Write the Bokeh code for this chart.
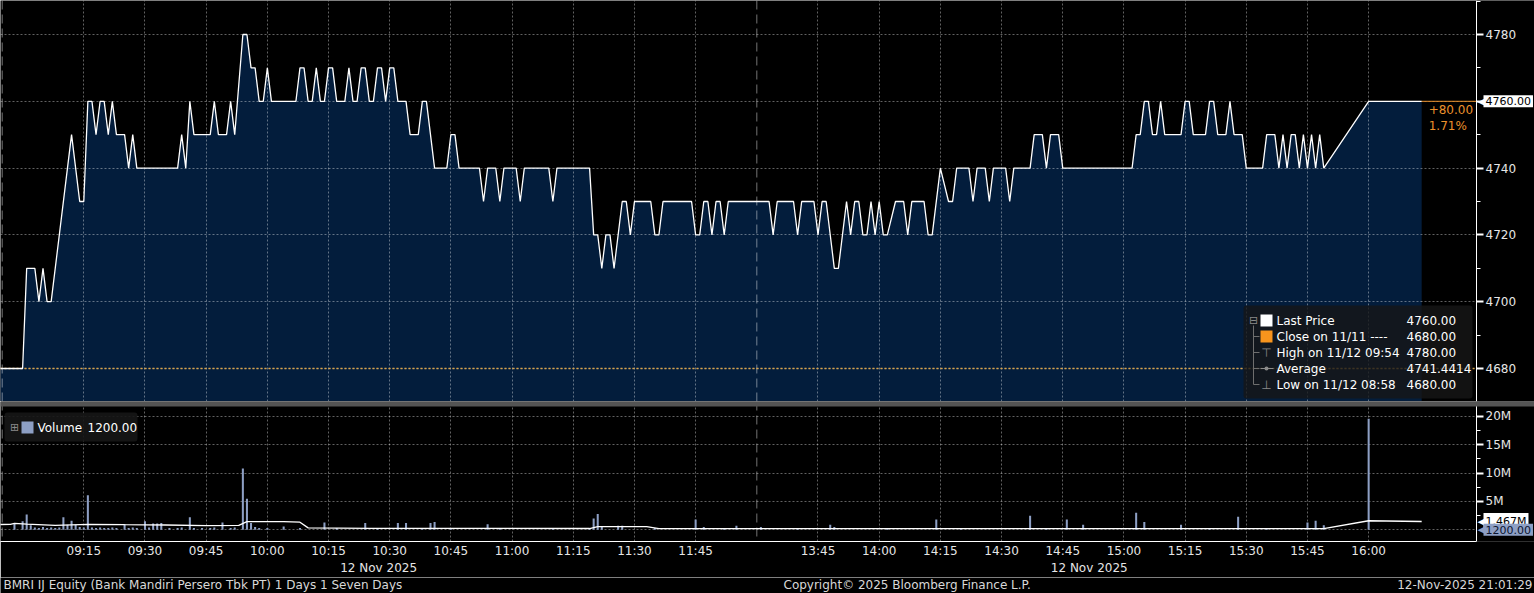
from bokeh.plotting import figure
from bokeh.models import (ColumnDataSource, FixedTicker, LinearAxis, Grid, Span,
                          BoxAnnotation, Label, Range1d)
from bokeh.layouts import column
from bokeh.embed import file_html
from bokeh.resources import INLINE
from bokeh.core.properties import value

FONT = "DejaVu Sans"

# ---------------- data ----------------
price_times = [
    "08:54", "09:00", "09:01", "09:03", "09:04", "09:05", "09:06", "09:07", "09:12", "09:14",
    "09:15", "09:16", "09:17", "09:18", "09:19", "09:20", "09:21", "09:22", "09:23", "09:25",
    "09:26", "09:27", "09:28", "09:38", "09:39", "09:40", "09:41", "09:42", "09:46", "09:47",
    "09:48", "09:50", "09:51", "09:52", "09:54", "09:55", "09:56", "09:57", "09:58", "09:59",
    "10:00", "10:01", "10:07", "10:08", "10:09", "10:10", "10:11", "10:12", "10:13", "10:14",
    "10:15", "10:16", "10:17", "10:19", "10:20", "10:21", "10:22", "10:23", "10:24", "10:25",
    "10:26", "10:27", "10:28", "10:29", "10:30", "10:31", "10:32", "10:34", "10:35", "10:37",
    "10:38", "10:39", "10:41", "10:44", "10:45", "10:46", "10:47", "10:52", "10:53", "10:54",
    "10:56", "10:57", "10:58", "11:01", "11:02", "11:03", "11:09", "11:10", "11:11", "11:19",
    "11:20", "11:21", "11:22", "11:23", "11:24", "11:25", "11:27", "11:28", "11:29", "11:30",
    "11:34", "11:35", "11:36", "11:37", "11:44", "11:45", "11:46", "11:47", "11:48", "11:49",
    "11:50", "11:51", "11:52", "11:53",
    "13:33", "13:34", "13:35", "13:39", "13:40", "13:41", "13:44", "13:45", "13:46", "13:47",
    "13:49", "13:50", "13:52", "13:53", "13:54", "13:55", "13:56", "13:57", "13:58", "13:59",
    "14:00", "14:01", "14:02", "14:04", "14:06", "14:07", "14:08", "14:11", "14:12", "14:13",
    "14:15", "14:17", "14:18", "14:19", "14:22", "14:23", "14:24", "14:26", "14:27", "14:28",
    "14:31", "14:32", "14:33", "14:37", "14:38", "14:40", "14:41", "14:42", "14:44", "14:45",
    "15:02", "15:03", "15:04", "15:05", "15:06", "15:07", "15:08", "15:09", "15:10", "15:14",
    "15:15", "15:16", "15:17", "15:20", "15:21", "15:22", "15:23", "15:25", "15:26", "15:27",
    "15:29", "15:30", "15:34", "15:35", "15:37", "15:38", "15:39", "15:40", "15:41", "15:42",
    "15:43", "15:44", "15:45", "15:46", "15:47", "15:48", "15:49", "16:00", "16:13",
]
price_values = [
    4680, 4680, 4710, 4710, 4700, 4710, 4700, 4700, 4750, 4730,
    4730, 4760, 4760, 4750, 4760, 4760, 4750, 4760, 4750, 4750,
    4740, 4750, 4740, 4740, 4750, 4740, 4760, 4750, 4750, 4760,
    4750, 4750, 4760, 4750, 4780, 4780, 4770, 4770, 4760, 4760,
    4770, 4760, 4760, 4770, 4770, 4760, 4760, 4770, 4760, 4760,
    4770, 4770, 4760, 4760, 4770, 4760, 4760, 4770, 4770, 4760,
    4760, 4770, 4770, 4760, 4770, 4770, 4760, 4760, 4750, 4750,
    4760, 4760, 4740, 4740, 4750, 4750, 4740, 4740, 4730, 4740,
    4740, 4730, 4740, 4740, 4730, 4740, 4740, 4730, 4740, 4740,
    4720, 4720, 4710, 4720, 4720, 4710, 4730, 4730, 4720, 4730,
    4730, 4720, 4720, 4730, 4730, 4720, 4720, 4730, 4730, 4720,
    4730, 4730, 4720, 4730,
    4730, 4720, 4730, 4730, 4720, 4730, 4730, 4720, 4730, 4730,
    4710, 4710, 4730, 4720, 4730, 4730, 4720, 4720, 4730, 4720,
    4730, 4720, 4720, 4730, 4730, 4720, 4730, 4730, 4720, 4720,
    4740, 4730, 4730, 4740, 4740, 4730, 4740, 4740, 4730, 4740,
    4740, 4730, 4740, 4740, 4750, 4750, 4740, 4750, 4750, 4740,
    4740, 4750, 4750, 4760, 4760, 4750, 4750, 4760, 4750, 4750,
    4760, 4760, 4750, 4750, 4760, 4760, 4750, 4750, 4760, 4750,
    4750, 4740, 4740, 4750, 4750, 4740, 4750, 4740, 4750, 4750,
    4740, 4750, 4740, 4750, 4740, 4750, 4740, 4760, 4760,
]

vol_times = [
    "08:58", "09:00", "09:01", "09:02", "09:03", "09:04", "09:05", "09:06", "09:07", "09:08",
    "09:09", "09:10", "09:11", "09:12", "09:13", "09:14", "09:15", "09:16", "09:17", "09:18",
    "09:19", "09:20", "09:21", "09:22", "09:23", "09:25", "09:26", "09:27", "09:28", "09:30",
    "09:31", "09:32", "09:33", "09:34", "09:36", "09:38", "09:39", "09:41", "09:42", "09:44",
    "09:46", "09:47", "09:49", "09:51", "09:52", "09:54", "09:55", "09:56", "09:57", "09:58",
    "10:00", "10:04", "10:08", "10:14", "10:17", "10:24", "10:27", "10:32", "10:34", "10:38",
    "10:40", "10:41", "10:45", "10:54", "10:57", "11:10", "11:19", "11:20", "11:21", "11:22",
    "11:26", "11:27", "11:35", "11:45", "11:47", "11:52", "11:55",
    "13:31", "13:40", "13:48", "13:49", "14:02", "14:14", "14:20", "14:37", "14:41", "14:46",
    "14:50", "15:03", "15:05", "15:14", "15:21", "15:28", "15:35", "15:45", "15:47", "15:49",
    "16:00", "16:13",
]
vol_values = [
    1200000, 1500000, 2700000, 800000, 400000, 300000, 500000, 300000, 400000, 300000,
    400000, 2200000, 900000, 1600000, 900000, 500000, 400000, 6100000, 400000, 300000,
    400000, 300000, 300000, 400000, 300000, 1000000, 300000, 400000, 300000, 1500000,
    400000, 1100000, 1100000, 1200000, 300000, 300000, 400000, 2200000, 300000, 300000,
    300000, 400000, 1300000, 300000, 400000, 10800000, 5500000, 1200000, 500000, 300000,
    300000, 600000, 300000, 1300000, 300000, 1200000, 300000, 1200000, 1200000, 300000,
    1200000, 1400000, 300000, 1000000, 300000, 300000, 300000, 2000000, 2800000, 500000,
    700000, 700000, 300000, 1800000, 500000, 300000, 700000,
    500000, 300000, 900000, 500000, 300000, 1800000, 300000, 2500000, 300000, 1800000,
    900000, 3000000, 1400000, 900000, 300000, 2300000, 300000, 1300000, 1600000, 800000,
    19600000, 1200,
]

vavg_times = ["08:54", "08:57", "08:58", "09:01", "09:08", "09:16", "09:25", "09:35", "09:45",
              "09:53", "09:55", "10:04", "10:08", "10:10", "10:25", "11:19", "11:21", "11:33",
              "11:36", "15:49", "16:00", "16:13"]
vavg_values = [940000, 950000, 1150000, 1000000, 800000, 950000, 900000, 850000, 750000,
               780000, 1450000, 1450000, 1350000, 350000, 260000, 230000, 550000, 550000,
               220000, 200000, 1600000, 1467000]

time_tick_labels = ["09:15", "09:30", "09:45", "10:00", "10:15", "10:30", "10:45", "11:00",
                    "11:15", "11:30", "11:45", "13:45", "14:00", "14:15", "14:30", "14:45",
                    "15:00", "15:15", "15:30", "15:45", "16:00"]
date_label = "12 Nov 2025"
session_break = "12:00"
day_start = "08:55"

prev_close = 4680
price_ticks = [4680, 4700, 4720, 4740, 4760, 4780]
price_minor = [4670, 4690, 4710, 4730, 4750, 4770, 4790]
vol_ticks = [5000000, 10000000, 15000000, 20000000]
vol_tick_labels = ["5M", "10M", "15M", "20M"]
vol_minor = [2500000, 7500000, 12500000, 17500000]
vol_grid = [0, 5000000, 10000000, 15000000, 20000000]

legend_labels = ["Last Price", "Close on 11/11 ----", "High on 11/12 09:54", "Average",
                 "Low on 11/12 08:58"]
legend_values = ["4760.00", "4680.00", "4780.00", "4741.4414", "4680.00"]
vol_avg_label = "1.467M"

footer_left = "BMRI IJ Equity (Bank Mandiri Persero Tbk PT) 1 Days 1 Seven Days"
footer_center = "Copyright\u00a9 2025 Bloomberg Finance L.P."
footer_right = "12-Nov-2025 21:01:29"

# ---------------- helpers ----------------
OPEN, LUNCH_START, LUNCH_END = 9 * 60, 12 * 60, 13 * 60 + 30


def tpos(t):
    h, m = map(int, t.split(":"))
    mins = h * 60 + m
    if mins >= LUNCH_END:
        mins -= (LUNCH_END - LUNCH_START)
    return mins - OPEN


BG = "#000000"
FILL = "#031d3c"
ORANGE = "#ec922c"
DOTORANGE = "#dca447"
VOLC = "#8d9fc4"
TXT = "#e6e6e6"
SEPC = "#545454"

TW = 1534            # total width
FW = 1476            # plotting width up to the axis line
FHP, FHV, SEP = 401, 135, 5
FOOT_H = 16
X0, X_AX = -5.42, 356.44
MPP = (X_AX - X0) / FW              # minutes per pixel
XF = X0 + TW * MPP                  # frame spans the full width
PY0, PY1 = 4670.12, 4790.18
VY0, VY1 = -2.06e6, 21.76e6
VPP = (VY1 - VY0) / FHV
VYT = VY1 + SEP * VPP               # room for the separator band

px = [tpos(t) for t in price_times]
last_price = price_values[-1]
m_last = px[-1]
tick_pos = [tpos(t) for t in time_tick_labels]
brk = tpos(session_break)
d0 = tpos(day_start)


def style_right_axis(ax):
    ax.fixed_location = X_AX
    ax.axis_line_color = "white"
    ax.axis_line_width = 1
    ax.major_tick_line_color = "white"
    ax.major_tick_line_width = 2
    ax.major_tick_out = 7
    ax.major_tick_in = 0
    ax.minor_tick_line_color = "white"
    ax.minor_tick_out = 4
    ax.minor_tick_in = 0
    ax.major_label_text_color = TXT
    ax.major_label_text_font = FONT
    ax.major_label_text_font_size = "12px"
    ax.major_label_standoff = 2


def add_time_grid(fig):
    fig.add_layout(Grid(dimension=0, ticker=FixedTicker(ticks=tick_pos),
                        grid_line_color="white", grid_line_alpha=0.38,
                        grid_line_dash="2 2", grid_line_width=1))
    for loc in (brk, d0):
        fig.add_layout(Span(location=loc, dimension="height", line_color="white",
                            line_alpha=0.45, line_dash="9 5", line_width=1, level="underlay"))


def tag(fig, y, text, bg, fg):
    fig.add_layout(Label(x=X_AX, y=y, x_offset=1, text="\u25c0", text_color=bg,
                         text_font=FONT, text_font_size="11px", text_baseline="middle",
                         text_align="left"))
    fig.add_layout(Label(x=X_AX, y=y, x_offset=7, text=text, text_color=fg, text_font=FONT,
                         text_font_size="11px", text_baseline="middle", text_align="left",
                         background_fill_color=bg, padding=2))


# ---------------- price panel ----------------
p = figure(frame_width=TW, frame_height=FHP, x_range=Range1d(X0, XF),
           y_range=Range1d(PY0, PY1), x_axis_location=None, y_axis_location="right",
           toolbar_location=None, output_backend="svg", background_fill_color=BG,
           border_fill_color=BG, outline_line_color=None, min_border=0)
p.xgrid.visible = False
pax = p.yaxis[0]
pax.ticker = FixedTicker(ticks=price_ticks, minor_ticks=price_minor)
style_right_axis(pax)
p.ygrid.grid_line_color = "white"
p.ygrid.grid_line_alpha = 0.38
p.ygrid.grid_line_dash = "2 2"

src = ColumnDataSource(dict(x=px, y=price_values))
p.varea(x="x", y1=PY0, y2="y", source=src, fill_color=FILL, level="image")
add_time_grid(p)
p.add_layout(Span(location=prev_close, dimension="width", line_color=DOTORANGE,
                  line_dash="2 2", line_width=1.6, level="underlay"))
# area to the right of the axis line stays plain black
p.add_layout(BoxAnnotation(left=X_AX, fill_color=BG, fill_alpha=1, line_color=None,
                           level="underlay"))


def pxx(v):
    return X0 + v * MPP


def pyp(v):
    return PY1 - v * (PY1 - PY0) / FHP


lg_r = FW - 4
lg_l = lg_r - 229
lg_b = FHP - 3
lg_t = lg_b - 93
p.add_layout(BoxAnnotation(left=pxx(lg_l), right=pxx(lg_r), top=pyp(lg_t), bottom=pyp(lg_b),
                           fill_color="#161616", fill_alpha=0.8, line_color=None,
                           border_radius=3, level="underlay"))

p.line("x", "y", source=src, line_color="white", line_width=1.3)
p.segment(x0=[m_last], y0=[last_price], x1=[X_AX], y1=[last_price], line_color=ORANGE,
          line_width=1)

rows = [pyp(lg_t + 15 + 16 * i) for i in range(5)]
GRAY = "#8a8a8a"
p.segment(x0=[pxx(lg_l + 10)], y0=[pyp(lg_t + 20)], x1=[pxx(lg_l + 10)], y1=[rows[4]],
          line_color="#6e6e6e", line_width=1)
p.segment(x0=[pxx(lg_l + 10)] * 4, y0=rows[1:], x1=[pxx(lg_l + 16)] * 4, y1=rows[1:],
          line_color="#6e6e6e", line_width=1)
p.text(x=[pxx(lg_l + 10)], y=[rows[0]], text=["\u229f"], text_font=value(FONT),
       text_font_size="11px", text_color=GRAY, text_align="center", text_baseline="middle")
p.scatter(x=[pxx(lg_l + 23)] * 2, y=rows[:2], marker="square", size=12,
          fill_color=["white", "#f7941d"], line_color=None)
p.text(x=[pxx(lg_l + 23)] * 2, y=[rows[2], rows[4]], text=["\u22a4", "\u22a5"],
       text_font=value(FONT), text_font_size="12px", text_color=GRAY, text_align="center",
       text_baseline="middle")
p.segment(x0=[pxx(lg_l + 17)], y0=[rows[3]], x1=[pxx(lg_l + 30)], y1=[rows[3]],
          line_color=GRAY, line_width=1)
p.scatter(x=[pxx(lg_l + 23)], y=[rows[3]], marker="circle", size=4, fill_color=GRAY,
          line_color=None)
p.text(x=[pxx(lg_l + 33)] * 5, y=rows, text=legend_labels, text_font=value(FONT),
       text_font_size="12px", text_color="white", text_align="left", text_baseline="middle")
p.text(x=[pxx(lg_l + 163)] * 5, y=rows, text=legend_values, text_font=value(FONT),
       text_font_size="12px", text_color="white", text_align="left", text_baseline="middle")

chg = last_price - prev_close
chg_src = ColumnDataSource(dict(x=[m_last, m_last], y=[last_price, last_price],
                                t=[f"+{chg:.2f}", f"{chg / prev_close * 100:.2f}%"],
                                yo=[8, 25]))
p.text(x="x", y="y", text="t", y_offset="yo", x_offset=7, source=chg_src,
       text_font=value(FONT), text_font_size="12px", text_color=ORANGE, text_align="left",
       text_baseline="middle")

tag(p, last_price, f"{last_price:.2f}", "white", "black")

# ---------------- volume panel ----------------
v = figure(frame_width=TW, frame_height=FHV + SEP, x_range=p.x_range,
           y_range=Range1d(VY0, VYT), x_axis_location=None, y_axis_location="right",
           toolbar_location=None, output_backend="svg", background_fill_color=BG,
           border_fill_color=BG, outline_line_color=None, min_border=0)
v.xgrid.visible = False
vax = v.yaxis[0]
vax.ticker = FixedTicker(ticks=vol_ticks, minor_ticks=vol_minor)
vax.major_label_overrides = dict(zip(vol_ticks, vol_tick_labels))
style_right_axis(vax)
v.ygrid.ticker = FixedTicker(ticks=vol_grid)
v.ygrid.grid_line_color = "white"
v.ygrid.grid_line_alpha = 0.38
v.ygrid.grid_line_dash = "2 2"
add_time_grid(v)
v.add_layout(BoxAnnotation(left=X_AX, fill_color=BG, fill_alpha=1, line_color=None,
                           level="underlay"))

vsrc = ColumnDataSource(dict(x=[tpos(t) for t in vol_times], top=vol_values))
v.vbar(x="x", top="top", bottom=0, width=0.5, source=vsrc, fill_color=VOLC, line_color=None)
v.line(x=[tpos(t) for t in vavg_times], y=vavg_values, line_color="white", line_width=1.3)


def pyv(val):
    return VY1 - val * VPP


vl_l, vl_t = 4, 6
v.add_layout(BoxAnnotation(left=pxx(vl_l), right=pxx(vl_l + 133), top=pyv(vl_t),
                           bottom=pyv(vl_t + 29), fill_color="#161616", fill_alpha=0.9,
                           line_color=None, border_radius=3, level="underlay"))
vrow = pyv(vl_t + 15)
v.text(x=[pxx(vl_l + 10)], y=[vrow], text=["\u229e"], text_font=value(FONT),
       text_font_size="11px", text_color=GRAY, text_align="center", text_baseline="middle")
v.scatter(x=[pxx(vl_l + 23)], y=[vrow], marker="square", size=12, fill_color=VOLC,
          line_color=None)
v.text(x=[pxx(vl_l + 33), pxx(vl_l + 83)], y=[vrow, vrow],
       text=["Volume", f"{vol_values[-1]:.2f}"], text_font=value(FONT),
       text_font_size="12px", text_color="white", text_align="left", text_baseline="middle")

tag(v, vavg_values[-1], vol_avg_label, "white", "black")
tag(v, vol_values[-1], f"{vol_values[-1]:.2f}", VOLC, "#0b1530")

# separator band between the two panels
v.add_layout(BoxAnnotation(bottom=VY1, fill_color=SEPC, fill_alpha=1, line_color=None))

xa = LinearAxis(ticker=FixedTicker(ticks=tick_pos),
                major_label_overrides=dict(zip(tick_pos, time_tick_labels)),
                bounds=(X0, X_AX))
xa.axis_line_color = "white"
xa.major_tick_line_color = None
xa.minor_tick_line_color = None
xa.major_tick_out = 0
xa.major_tick_in = 0
xa.minor_tick_out = 0
xa.minor_tick_in = 0
xa.major_label_text_color = TXT
xa.major_label_text_font = FONT
xa.major_label_text_font_size = "12px"
xa.major_label_standoff = 2
v.add_layout(xa, "below")

mid_am = round((X0 + brk) / 2, 2)
mid_pm = round((brk + m_last) / 2, 2)
da = LinearAxis(ticker=FixedTicker(ticks=[mid_am, mid_pm]),
                major_label_overrides={mid_am: date_label, mid_pm: date_label})
da.axis_line_color = None
da.major_tick_line_color = None
da.minor_tick_line_color = None
da.major_tick_out = 0
da.major_tick_in = 0
da.minor_tick_out = 0
da.minor_tick_in = 0
da.major_label_text_color = TXT
da.major_label_text_font = FONT
da.major_label_text_font_size = "12px"
da.major_label_standoff = 0
v.add_layout(da, "below")

# ---------------- footer ----------------
f = figure(width=TW, height=FOOT_H, x_range=Range1d(0, TW), y_range=Range1d(0, FOOT_H),
           x_axis_location=None, y_axis_location=None, toolbar_location=None,
           output_backend="svg", background_fill_color=BG, border_fill_color=BG,
           outline_line_color=None, min_border=0)
f.xgrid.visible = False
f.ygrid.visible = False
for xx, tt, al in ((3, footer_left, "left"), (783, footer_center, "left"),
                   (TW - 2, footer_right, "right")):
    f.text(x=[xx], y=[FOOT_H - 7], text=[tt], text_font=value(FONT), text_font_size="12px",
           text_color="#d8d8d8", text_align=al, text_baseline="middle")

layout = column(p, v, f)
open("out.html", "w").write(file_html(layout, INLINE))
